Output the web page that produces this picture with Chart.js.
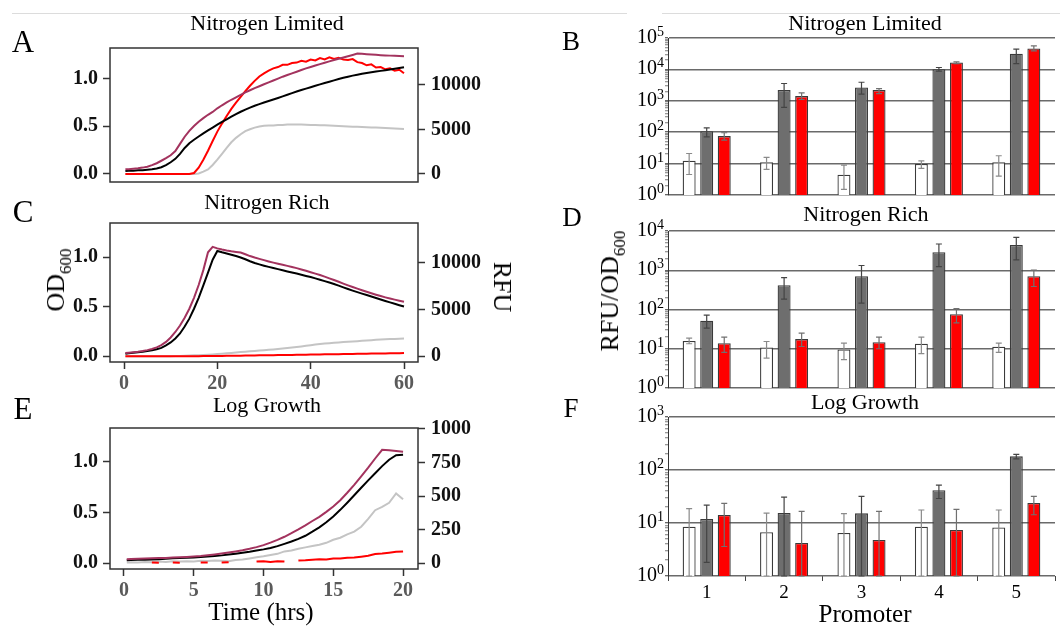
<!DOCTYPE html>
<html><head><meta charset="utf-8">
<script src="https://cdn.jsdelivr.net/npm/chart.js@4/dist/chart.umd.min.js"></script>
<style>
body{margin:0;background:#fff;}
#wrap{position:relative;width:1060px;height:626px;overflow:hidden;background:#fff;font-family:'Liberation Serif','Times New Roman',serif;}
canvas{position:absolute;}
.t{position:absolute;transform:translate(-50%,-50%);white-space:nowrap;line-height:1;color:#000;z-index:5;}
.rl{transform:translate(-50%,-50%) rotate(-90deg);}
.rr{transform:translate(-50%,-50%) rotate(90deg);}
.sub{font-size:17px;position:relative;top:7px;}
.hl{position:absolute;height:1px;background:#dcdcdc;top:13px;}
</style></head>
<body><div id="wrap">
<div class="hl" style="left:12px;width:615px"></div>
<div class="hl" style="left:662px;width:398px"></div>

<canvas id="cA" width="530" height="170" style="left:0;top:30px"></canvas>
<canvas id="cC" width="530" height="195" style="left:0;top:205px"></canvas>
<canvas id="cE" width="530" height="190" style="left:0;top:410px"></canvas>
<canvas id="cB" width="530" height="190" style="left:530px;top:15px"></canvas>
<canvas id="cD" width="530" height="185" style="left:530px;top:210px"></canvas>
<canvas id="cF" width="530" height="200" style="left:530px;top:400px"></canvas>

<div class="t" style="left:267px;top:23px;font-size:22px">Nitrogen Limited</div>
<div class="t" style="left:267px;top:202px;font-size:22px">Nitrogen Rich</div>
<div class="t" style="left:267px;top:405px;font-size:22px">Log Growth</div>
<div class="t" style="left:865px;top:23px;font-size:22px">Nitrogen Limited</div>
<div class="t" style="left:866px;top:214px;font-size:22px">Nitrogen Rich</div>
<div class="t" style="left:865px;top:402px;font-size:22px">Log Growth</div>

<div class="t" style="left:23px;top:41px;font-size:31px">A</div>
<div class="t" style="left:23px;top:211px;font-size:31px">C</div>
<div class="t" style="left:23px;top:408px;font-size:31px">E</div>
<div class="t" style="left:571px;top:41px;font-size:27px">B</div>
<div class="t" style="left:572px;top:217px;font-size:27px">D</div>
<div class="t" style="left:571px;top:408px;font-size:27px">F</div>

<div class="t rl" style="left:56px;top:280px;font-size:26px">OD<span class="sub">600</span></div>
<div class="t rr" style="left:502px;top:287px;font-size:26px">RFU</div>
<div class="t rl" style="left:610px;top:291px;font-size:26px">RFU/OD<span class="sub">600</span></div>
<div class="t" style="left:261px;top:611px;font-size:25px">Time (hrs)</div>
<div class="t" style="left:865px;top:613px;font-size:25px">Promoter</div>
</div>
<script>
// ---------- time axes ----------
const hoursAC = [0.3,1,2,3,4,5,6,7,8,9,10,11,12,13,14,15,16,17,18,19,20,21,22,23,24,25,26,27,28,29,30,31,32,33,34,35,36,37,38,39,40,41,42,43,44,45,46,47,48,49,50,51,52,53,54,55,56,57,58,59,60];
const hoursE = [0.2,0.5,1,1.5,2,2.5,3,3.5,4,4.5,5,5.5,6,6.5,7,7.5,8,8.5,9,9.5,10,10.5,11,11.5,12,12.5,13,13.5,14,14.5,15,15.5,16,16.5,17,17.5,18,18.5,19,19.5,20];

// ---------- Panel A: Nitrogen Limited ----------
const odBlackA = [0.030,0.032,0.034,0.037,0.039,0.043,0.048,0.056,0.070,0.092,0.122,0.158,0.210,0.272,0.322,0.358,0.392,0.425,0.456,0.486,0.516,0.545,0.572,0.600,0.626,0.652,0.675,0.695,0.715,0.732,0.749,0.765,0.781,0.797,0.813,0.830,0.847,0.864,0.880,0.895,0.910,0.925,0.939,0.953,0.967,0.981,0.995,1.008,1.020,1.031,1.041,1.050,1.058,1.066,1.074,1.081,1.088,1.096,1.104,1.112,1.120];
const odMaroonA = [0.048,0.050,0.054,0.059,0.066,0.075,0.092,0.112,0.138,0.165,0.195,0.240,0.315,0.390,0.452,0.503,0.547,0.585,0.620,0.650,0.688,0.720,0.750,0.778,0.804,0.830,0.855,0.878,0.900,0.920,0.941,0.960,0.980,1.000,1.020,1.038,1.055,1.072,1.090,1.107,1.122,1.137,1.152,1.167,1.181,1.195,1.209,1.222,1.235,1.248,1.262,1.260,1.256,1.252,1.249,1.246,1.243,1.241,1.239,1.237,1.235];
const rfuRedA = [0,0,0,0,0,0,0,0,0,0,0,0,0,0,0,100,700,1600,2600,3700,4750,5650,6500,7300,8000,8650,9300,9900,10450,10950,11300,11600,11850,12000,12250,12250,12450,12500,12700,12600,12850,12750,13000,12850,13100,12900,13050,12850,12800,12900,12550,12450,12200,12300,11950,12000,11750,11850,11600,11700,11300];
const rfuGrayA = [0,0,0,0,0,0,0,0,0,0,0,0,0,0,0,0,50,250,500,1000,1600,2250,2930,3550,4050,4450,4800,5020,5200,5330,5400,5430,5450,5480,5500,5540,5560,5550,5540,5520,5500,5490,5470,5460,5440,5420,5390,5350,5320,5300,5290,5270,5250,5220,5200,5180,5160,5130,5100,5080,5050];

// ---------- Panel C: Nitrogen Rich ----------
const odBlackC = [0.026,0.030,0.035,0.040,0.046,0.052,0.060,0.070,0.085,0.110,0.140,0.180,0.230,0.300,0.380,0.480,0.590,0.715,0.845,0.975,1.064,1.050,1.038,1.025,1.012,0.998,0.980,0.960,0.942,0.928,0.915,0.903,0.892,0.880,0.868,0.857,0.846,0.835,0.823,0.811,0.800,0.787,0.773,0.759,0.745,0.730,0.713,0.696,0.679,0.663,0.648,0.633,0.618,0.603,0.588,0.573,0.558,0.544,0.530,0.516,0.503];
const odMaroonC = [0.032,0.036,0.041,0.046,0.053,0.062,0.073,0.090,0.112,0.145,0.190,0.245,0.310,0.390,0.480,0.590,0.720,0.870,1.050,1.105,1.090,1.078,1.068,1.060,1.054,1.048,1.030,1.012,0.997,0.984,0.971,0.958,0.946,0.935,0.924,0.913,0.902,0.890,0.877,0.863,0.849,0.835,0.820,0.804,0.787,0.770,0.752,0.734,0.716,0.699,0.683,0.667,0.652,0.637,0.622,0.608,0.595,0.583,0.572,0.561,0.551];
const rfuGrayC = [0,0,0,0,0,0,0,0,0,0,0,20,40,60,80,100,120,145,175,205,240,280,320,365,410,450,490,530,570,610,650,695,740,785,830,880,940,1000,1060,1120,1190,1260,1310,1360,1400,1440,1480,1520,1555,1590,1625,1660,1700,1730,1760,1790,1820,1845,1865,1885,1900];
const rfuRedC = [0,0,0,0,0,0,0,0,0,0,0,0,0,0,0,10,15,20,25,30,36,43,50,57,64,71,78,85,92,100,108,115,122,130,137,144,151,159,167,175,183,191,199,207,215,223,231,239,247,255,263,271,279,287,295,303,311,319,326,333,340];

// ---------- Panel E: Log Growth ----------
const odBlackE = [0.030,0.032,0.033,0.035,0.037,0.040,0.045,0.048,0.050,0.053,0.057,0.062,0.066,0.071,0.077,0.085,0.094,0.103,0.112,0.124,0.136,0.150,0.168,0.190,0.213,0.240,0.270,0.310,0.353,0.403,0.460,0.525,0.595,0.668,0.742,0.815,0.885,0.955,1.018,1.062,1.066];
const odMaroonE = [0.040,0.042,0.044,0.046,0.048,0.050,0.052,0.055,0.058,0.062,0.066,0.071,0.078,0.086,0.095,0.105,0.116,0.128,0.142,0.158,0.178,0.202,0.230,0.260,0.295,0.332,0.372,0.415,0.456,0.505,0.558,0.620,0.693,0.770,0.855,0.940,1.030,1.116,1.112,1.104,1.097];
const rfuGrayE = [5,8,6,10,8,12,10,14,12,15,13,18,16,20,18,14,24,28,36,44,52,62,70,88,95,108,118,128,138,152,175,190,215,235,272,330,395,420,450,520,476];
const rfuRedE = [null,null,null,null,5,4,null,5,4,null,null,6,5,null,5,7,null,null,null,12,14,10,15,12,null,20,22,26,30,28,36,35,40,42,48,55,68,72,78,85,88];

// ---------- tick labels (line panels) ----------
const odTicks = [0, 0.5, 1.0];
const odTickLabels = ['0.0', '0.5', '1.0'];
const rfuTicksAC = [0, 5000, 10000];
const rfuTickLabelsAC = ['0', '5000', '10000'];
const rfuTicksE = [0, 250, 500, 750, 1000];
const rfuTickLabelsE = ['0', '250', '500', '750', '1000'];
const timeTicksAC = [0, 20, 40, 60];
const timeTicksE = [0, 5, 10, 15, 20];

// ---------- bar panels ----------
const promoters = ['1', '2', '3', '4', '5'];
const decadesB = [0, 1, 2, 3, 4, 5];
const decadesD = [0, 1, 2, 3, 4];
const decadesF = [0, 1, 2, 3];

const whiteB = [12.3, 11, 4.4, 9.7, 11];
const whiteBLow = [4.5, 6.5, 1.5, 7, 4.0];
const whiteBHigh = [21, 15.8, 9, 12.3, 17.8];
const grayB = [107, 2190, 2670, 10200, 31500];
const grayBLow = [71, 614, 1630, 8800, 15200];
const grayBHigh = [138, 3560, 3900, 11500, 44000];
const redB = [75, 1410, 2190, 16600, 46500];
const redBLow = [56, 1100, 1700, 15200, 39000];
const redBHigh = [96, 1800, 2450, 17400, 56000];

const whiteD = [15.7, 10.8, 9.6, 13.4, 11.2];
const whiteDLow = [13.4, 5.8, 5.3, 7.5, 8.1];
const whiteDHigh = [18.7, 15.3, 13.9, 19.8, 13.9];
const grayD = [51.5, 415, 705, 2870, 4400];
const grayDLow = [33.4, 183, 145, 1240, 1830];
const grayDHigh = [71.6, 650, 1320, 4660, 6870];
const redD = [13.9, 17.6, 14.7, 76, 705];
const redDLow = [8.1, 11.4, 10, 45.6, 385];
const redDHigh = [19.8, 25, 19.8, 106, 1010];

const whiteF = [8.5, 6.7, 6.5, 8.5, 8.2];
const whiteFLow = [1, 1, 1, 1, 1];
const whiteFHigh = [18.6, 15.4, 15, 17.6, 17.6];
const grayF = [11.9, 15.4, 15.2, 41.4, 181];
const grayFLow = [1.8, 1, 1, 29, 162];
const grayFHigh = [21.8, 30.9, 31.8, 52, 197];
const redF = [14.2, 4.2, 4.8, 7.4, 23.8];
const redFLow = [3.6, 1, 1, 1, 14.3];
const redFHigh = [23.5, 16.6, 16.6, 18.1, 31.8];

// ---------- styling ----------
const SERIF = "'Liberation Serif', 'Times New Roman', serif";
const C_BLACK = '#000000', C_MAROON = '#a3335e', C_RED = '#ff0000', C_GRAY = '#c4c4c4';

const boxPlugin = {
  id: 'box',
  afterDraw(chart) {
    const a = chart.chartArea, ctx = chart.ctx;
    ctx.save(); ctx.strokeStyle = '#333'; ctx.lineWidth = 1.5;
    ctx.strokeRect(a.left, a.top, a.right - a.left, a.bottom - a.top);
    ctx.restore();
  }
};

function fixedTicks(values) {
  return s => { s.ticks = values.map(v => ({ value: v })); };
}

function lineChart(id, o) {
  const mk = (vals, color, axis) => ({
    data: o.times.map((t, i) => ({ x: t, y: vals[i] })),
    borderColor: color, borderWidth: 2, pointRadius: 0, yAxisID: axis,
    tension: 0, spanGaps: false, fill: false
  });
  new Chart(document.getElementById(id), {
    type: 'line',
    data: { datasets: [
      mk(o.maroon, C_MAROON, 'y'),
      mk(o.black, C_BLACK, 'y'),
      mk(o.red, C_RED, 'y1'),
      mk(o.gray, C_GRAY, 'y1')
    ] },
    options: {
      responsive: false, animation: false, devicePixelRatio: 1,
      layout: { padding: { top: o.padTop, bottom: o.padBottom, left: 0, right: 0 } },
      plugins: { legend: { display: false }, tooltip: { enabled: false } },
      scales: {
        x: {
          type: 'linear', min: o.xMin, max: o.xMax, display: !!o.xTicks,
          afterBuildTicks: fixedTicks(o.xTicks || []),
          afterFit: s => { s.height = o.xH || 0; },
          grid: { drawOnChartArea: false, tickLength: 7, tickColor: '#333', tickWidth: 1.5 },
          border: { display: false },
          ticks: { font: { family: SERIF, size: 20, weight: 'bold' }, color: '#5a5a5a', padding: 3, maxRotation: 0,
                   callback: v => String(v) }
        },
        y: {
          position: 'left', min: o.yMin, max: o.yMax,
          afterBuildTicks: fixedTicks(odTicks),
          afterFit: s => { s.width = 110; },
          grid: { drawOnChartArea: false, tickLength: 7, tickColor: '#333', tickWidth: 1.5 },
          border: { display: false },
          ticks: { font: { family: SERIF, size: 20, weight: 'bold' }, color: '#111', padding: 5,
                   callback: (v, i) => odTickLabels[i] }
        },
        y1: {
          position: 'right', min: o.y1Min, max: o.y1Max,
          afterBuildTicks: fixedTicks(o.y1Ticks),
          afterFit: s => { s.width = 112; },
          grid: { drawOnChartArea: false, tickLength: 7, tickColor: '#333', tickWidth: 1.5 },
          border: { display: false },
          ticks: { font: { family: SERIF, size: 20, weight: 'bold' }, color: '#111', padding: 6,
                   callback: (v, i) => o.y1Labels[i] }
        }
      }
    },
    plugins: [boxPlugin]
  });
}

lineChart('cA', { times: hoursAC, black: odBlackA, maroon: odMaroonA, red: rfuRedA, gray: rfuGrayA,
  padTop: 9, padBottom: 12, xMin: -3.0, xMax: 63.0, xTicks: null,
  yMin: -0.085, yMax: 1.321, y1Min: -909, y1Max: 14141, y1Ticks: rfuTicksAC, y1Labels: rfuTickLabelsAC });
lineChart('cC', { times: hoursAC, black: odBlackC, maroon: odMaroonC, red: rfuRedC, gray: rfuGrayC,
  padTop: 11, padBottom: 0, xH: 38, xMin: -3.0, xMax: 63.0, xTicks: timeTicksAC,
  yMin: -0.058, yMax: 1.346, y1Min: -612, y1Max: 14286, y1Ticks: rfuTicksAC, y1Labels: rfuTickLabelsAC });
lineChart('cE', { times: hoursE, black: odBlackE, maroon: odMaroonE, red: rfuRedE, gray: rfuGrayE,
  padTop: 12, padBottom: 0, xH: 31, xMin: -1.0, xMax: 21.07, xTicks: timeTicksE,
  yMin: -0.057, yMax: 1.330, y1Min: -43, y1Max: 1007, y1Ticks: rfuTicksE, y1Labels: rfuTickLabelsE });

// ---------- bar charts ----------
const errPlugin = {
  id: 'errbars',
  afterDatasetsDraw(chart) {
    const ctx = chart.ctx, ys = chart.scales.y;
    chart.data.datasets.forEach((ds, i) => {
      if (!ds.errLow) return;
      const meta = chart.getDatasetMeta(i);
      ctx.save(); ctx.strokeStyle = ds.errColor; ctx.lineWidth = 1.2;
      meta.data.forEach((bar, j) => {
        const x = bar.x, yl = ys.getPixelForValue(ds.errLow[j]), yh = ys.getPixelForValue(ds.errHigh[j]);
        ctx.beginPath();
        ctx.moveTo(x, yl); ctx.lineTo(x, yh);
        ctx.moveTo(x - 3, yl); ctx.lineTo(x + 3, yl);
        ctx.moveTo(x - 3, yh); ctx.lineTo(x + 3, yh);
        ctx.stroke();
      });
      ctx.restore();
    });
  }
};

const logLabelPlugin = {
  id: 'logLabels',
  afterDraw(chart, args, opts) {
    if (!opts || !opts.decades) return;
    const ys = chart.scales.y, ctx = chart.ctx;
    ctx.save(); ctx.fillStyle = '#000'; ctx.textBaseline = 'alphabetic';
    opts.decades.forEach(e => {
      const y = ys.getPixelForValue(Math.pow(10, e));
      ctx.font = "20px 'Liberation Serif'"; ctx.textAlign = 'right';
      ctx.fillText('10', 127, y + 5);
      ctx.font = "14px 'Liberation Serif'"; ctx.textAlign = 'left';
      ctx.fillText(String(e), 127, y - 2);
    });
    ctx.restore();
  }
};

function logTicks(maxExp) {
  return s => {
    const t = [];
    for (let e = 0; e < maxExp; e++) {
      for (let m = 1; m <= 9; m++) t.push({ value: m * Math.pow(10, e), major: m === 1 });
    }
    t.push({ value: Math.pow(10, maxExp), major: true });
    s.ticks = t;
  };
}

function barChart(id, o) {
  const ds = (vals, lo, hi, fill, err) => ({
    data: vals, errLow: lo, errHigh: hi, errColor: err,
    backgroundColor: fill, borderColor: '#3a3a3a', borderWidth: 1.3,
    barPercentage: 0.74, categoryPercentage: 0.68
  });
  const maxExp = o.decades[o.decades.length - 1];
  new Chart(document.getElementById(id), {
    type: 'bar',
    data: { labels: promoters, datasets: [
      ds(o.white, o.whiteLow, o.whiteHigh, '#ffffff', '#8a8a8a'),
      ds(o.gray, o.grayLow, o.grayHigh, '#6e6e6e', '#444444'),
      ds(o.red, o.redLow, o.redHigh, '#ff0000', '#707070')
    ] },
    options: {
      responsive: false, animation: false, devicePixelRatio: 1,
      layout: { padding: { top: o.padTop, bottom: o.padBottom, left: 0, right: 5 } },
      plugins: { legend: { display: false }, tooltip: { enabled: false }, logLabels: { decades: o.decades } },
      scales: {
        x: {
          display: o.showX,
          afterFit: s => { s.height = o.xH || 0; },
          grid: { drawOnChartArea: false, offset: true, tickLength: 5, tickColor: '#444', tickWidth: 1 },
          border: { display: false },
          ticks: { font: { family: SERIF, size: 19 }, color: '#000', padding: 1 }
        },
        y: {
          type: 'logarithmic', min: 1, max: Math.pow(10, maxExp),
          afterBuildTicks: logTicks(maxExp),
          afterFit: s => { s.width = 138; },
          ticks: { display: false },
          grid: {
            color: c => (c.tick && c.tick.major) ? '#6a6a6a' : 'rgba(0,0,0,0)',
            lineWidth: 1.5, tickLength: 3,
            tickColor: c => (c.tick && c.tick.major) ? '#333' : '#777', tickWidth: 1
          },
          border: { display: true, color: '#333', width: 1 }
        }
      }
    },
    plugins: [errPlugin, logLabelPlugin]
  });
}

barChart('cB', { decades: decadesB, padTop: 23, padBottom: 10, showX: false,
  white: whiteB, whiteLow: whiteBLow, whiteHigh: whiteBHigh,
  gray: grayB, grayLow: grayBLow, grayHigh: grayBHigh,
  red: redB, redLow: redBLow, redHigh: redBHigh });
barChart('cD', { decades: decadesD, padTop: 21, padBottom: 7, showX: false,
  white: whiteD, whiteLow: whiteDLow, whiteHigh: whiteDHigh,
  gray: grayD, grayLow: grayDLow, grayHigh: grayDHigh,
  red: redD, redLow: redDLow, redHigh: redDHigh });
barChart('cF', { decades: decadesF, padTop: 17, padBottom: 0, showX: true, xH: 24,
  white: whiteF, whiteLow: whiteFLow, whiteHigh: whiteFHigh,
  gray: grayF, grayLow: grayFLow, grayHigh: grayFHigh,
  red: redF, redLow: redFLow, redHigh: redFHigh });
</script>
</body></html>
